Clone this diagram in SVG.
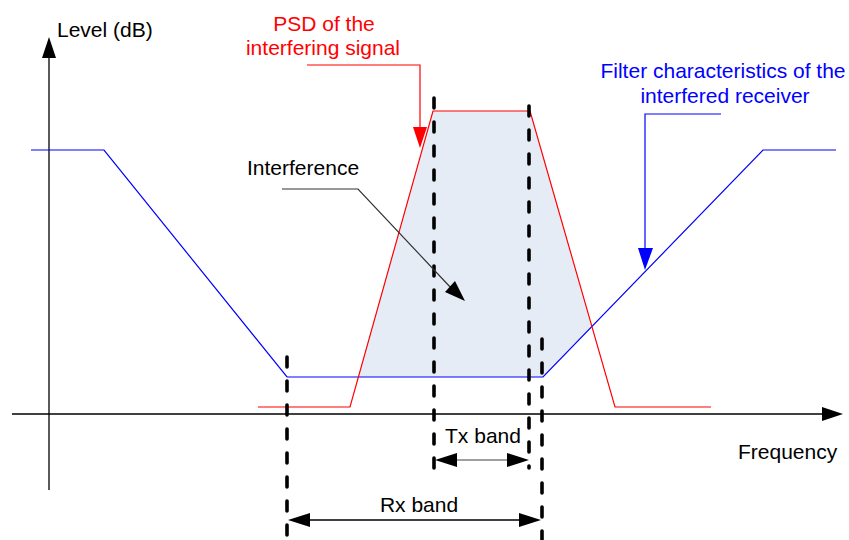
<svg xmlns="http://www.w3.org/2000/svg" width="849" height="540" viewBox="0 0 849 540">
<style>
text{font-family:"Liberation Sans",Arial,sans-serif;font-size:21px}
.blk{fill:#000}
.red{fill:#FF0000}
.blu{fill:#0000FF}
.mid{text-anchor:middle}
.dash{stroke:#000;stroke-width:3.6;stroke-dasharray:10 14;stroke-linecap:round;fill:none}
.thin{fill:none;stroke-width:1.2}
</style>
<rect width="849" height="540" fill="#fff"/>
<g id="interference-area">
<polygon points="358,377 433,111 530,111 591,327 543,377" fill="#E6ECF6"/>
</g>
<g id="axes">
<line x1="49" y1="490" x2="49" y2="56" stroke="#000" stroke-width="1.3"/>
<polygon points="49,37 42,58 56,58" fill="#000"/>
<line x1="12" y1="414" x2="824" y2="414" stroke="#000" stroke-width="1.3"/>
<polygon points="843,414 822,407 822,421" fill="#000"/>
<text class="blk" x="57" y="37">Level (dB)</text>
<text class="blk" x="738" y="459">Frequency</text>
</g>
<g id="filter-curve">
<polyline class="thin" stroke="#0000FF" points="31,150 104,150 287,377 543,377 763,150 836,150"/>
</g>
<g id="psd-curve">
<polyline class="thin" stroke="#FF0000" points="258,407 350,407 433,111 530,111 615,407 711,407"/>
</g>
<g id="band-markers">
<line class="dash" x1="434" y1="98" x2="434" y2="470"/>
<line class="dash" x1="529" y1="106" x2="529" y2="468"/>
<line class="dash" x1="287" y1="357" x2="287" y2="540"/>
<line class="dash" x1="542" y1="339" x2="542" y2="540"/>
</g>
<g id="connectors">
<g id="psd-leader">
<polyline class="thin" stroke="#FF0000" points="307,65 420,65 420,130"/>
<polygon points="420,148 413,127 427,127" fill="#FF0000"/>
</g>
<g id="filter-leader">
<polyline class="thin" stroke="#0000FF" points="721,114 645,114 645,250"/>
<polygon points="645,270 638,248 653,248" fill="#0000FF"/>
</g>
<g id="interference-leader">
<polyline fill="none" stroke="#333" stroke-width="1.2" points="282,189 358,189 452,289"/>
<polygon points="465,301 445,292 455,281" fill="#000"/>
</g>
<g id="tx-dimension">
<line x1="454" y1="460" x2="510" y2="460" stroke="#808080" stroke-width="1.3"/>
<polygon points="435,460 457,453 457,467" fill="#000"/>
<polygon points="529,460 507,453 507,467" fill="#000"/>
</g>
<g id="rx-dimension">
<line x1="305" y1="520" x2="525" y2="520" stroke="#000" stroke-width="1.3"/>
<polygon points="288,520 310,513 310,527" fill="#000"/>
<polygon points="541,520 519,513 519,527" fill="#000"/>
</g>
</g>
<g id="labels">
<text class="red mid" x="324" y="31">PSD of the</text>
<text class="red mid" x="323" y="55">interfering signal</text>
<text class="blu mid" x="723" y="78">Filter characteristics of the</text>
<text class="blu mid" x="725" y="103">interfered receiver</text>
<text class="blk" x="247" y="175">Interference</text>
<text class="blk mid" x="483" y="443">Tx band</text>
<text class="blk mid" x="419" y="512">Rx band</text>
</g>
</svg>
